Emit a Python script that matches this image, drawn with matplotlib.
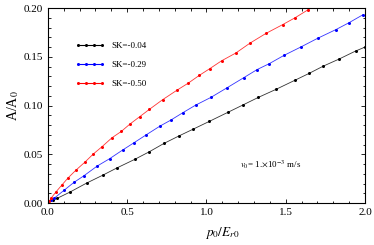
import matplotlib
matplotlib.use("Agg")
import matplotlib.pyplot as plt
from matplotlib.ticker import MultipleLocator
from matplotlib.lines import Line2D

plt.rcParams['font.family'] = ['Liberation Serif', 'DejaVu Serif']
plt.rcParams['mathtext.fontset'] = 'stix'

# values
x_k = [0.0, 0.03, 0.06, 0.139, 0.244, 0.347, 0.437, 0.547, 0.639, 0.732, 0.828, 0.917,
       1.018, 1.134, 1.232, 1.327, 1.438, 1.558, 1.647, 1.737, 1.836, 1.941, 2.0]
y_k = [0.0, 0.003, 0.005, 0.0113, 0.0205, 0.0287, 0.0362, 0.0448, 0.0526, 0.0612, 0.069, 0.0759,
       0.0838, 0.093, 0.1008, 0.1084, 0.1166, 0.126, 0.133, 0.1405, 0.1477, 0.156, 0.160]

x_b = [0.0, 0.02, 0.04, 0.101, 0.164, 0.227, 0.311, 0.389, 0.471, 0.543, 0.62, 0.707, 0.774,
       0.85, 0.932, 1.028, 1.127, 1.237, 1.32, 1.396, 1.489, 1.594, 1.701, 1.817, 1.899, 1.985]
y_b = [0.0, 0.003, 0.005, 0.013, 0.0212, 0.028, 0.038, 0.0455, 0.0544, 0.0619, 0.070, 0.079, 0.085,
       0.0926, 0.1005, 0.1084, 0.118, 0.1288, 0.137, 0.143, 0.1515, 0.160, 0.169, 0.178, 0.185, 0.193]

x_r = [0.0, 0.01, 0.02, 0.05, 0.088, 0.126, 0.175, 0.236, 0.286, 0.341, 0.404, 0.463, 0.517,
       0.578, 0.639, 0.723, 0.816, 0.885, 0.955, 1.022, 1.096, 1.186, 1.274, 1.375, 1.48,
       1.558, 1.638, 1.72]
y_r = [0.0, 0.002, 0.005, 0.0113, 0.0185, 0.0256, 0.0335, 0.0424, 0.0503, 0.0578, 0.067, 0.0735,
       0.081, 0.0885, 0.096, 0.106, 0.116, 0.123, 0.131, 0.138, 0.146, 0.154, 0.164, 0.174, 0.183,
       0.19, 0.198, 0.206]

labels = ["SK=-0.04", "SK=-0.29", "SK=-0.50"]
colors = ["black", "blue", "red"]

fig = plt.figure(figsize=(3.74, 2.45), dpi=100)
ax = fig.add_axes([0.128, 0.171, 0.848, 0.796])

for xs, ys, c in zip([x_k, x_b, x_r], [y_k, y_b, y_r], colors):
    ax.plot(xs, ys, '-', color=c, lw=0.6, alpha=0.8)
    ax.plot(xs, ys, 'o', color=c, ms=2.2, mew=0)

# legend handles with markers
handles = [Line2D([], [], color=c, lw=0.8, marker='o', ms=2.2, mew=0) for c in colors]
ax.legend(handles, labels, loc='upper left', bbox_to_anchor=(0.06, 0.87), frameon=False,
          fontsize=6.5, numpoints=4, handlelength=3.3, labelspacing=1.2, handletextpad=0.7)

ax.text(1.21, 0.039, r"$v_0$= 1.$\times$10$^{-3}$ m/s", fontsize=6.5, va='center')

ax.set_xlim(0, 2.0)
ax.set_ylim(0, 0.20)
ax.xaxis.set_major_locator(MultipleLocator(0.5))
ax.xaxis.set_minor_locator(MultipleLocator(0.1))
ax.yaxis.set_major_locator(MultipleLocator(0.05))
ax.yaxis.set_minor_locator(MultipleLocator(0.01))
ax.xaxis.set_major_formatter(plt.FormatStrFormatter('%.1f'))
ax.yaxis.set_major_formatter(plt.FormatStrFormatter('%.2f'))
ax.tick_params(which='both', direction='in', top=True, right=True, labelsize=8, width=0.6)
ax.tick_params(which='major', length=3)
ax.tick_params(which='minor', length=1.8)
for s in ax.spines.values():
    s.set_linewidth(0.8)

ax.set_xlabel(r"$p_0/E_{r0}$", fontsize=9.5, labelpad=6, x=0.55)
ax.set_ylabel(r"A/A$_0$", fontsize=10, labelpad=2)

fig.savefig("out.png", dpi=100)
